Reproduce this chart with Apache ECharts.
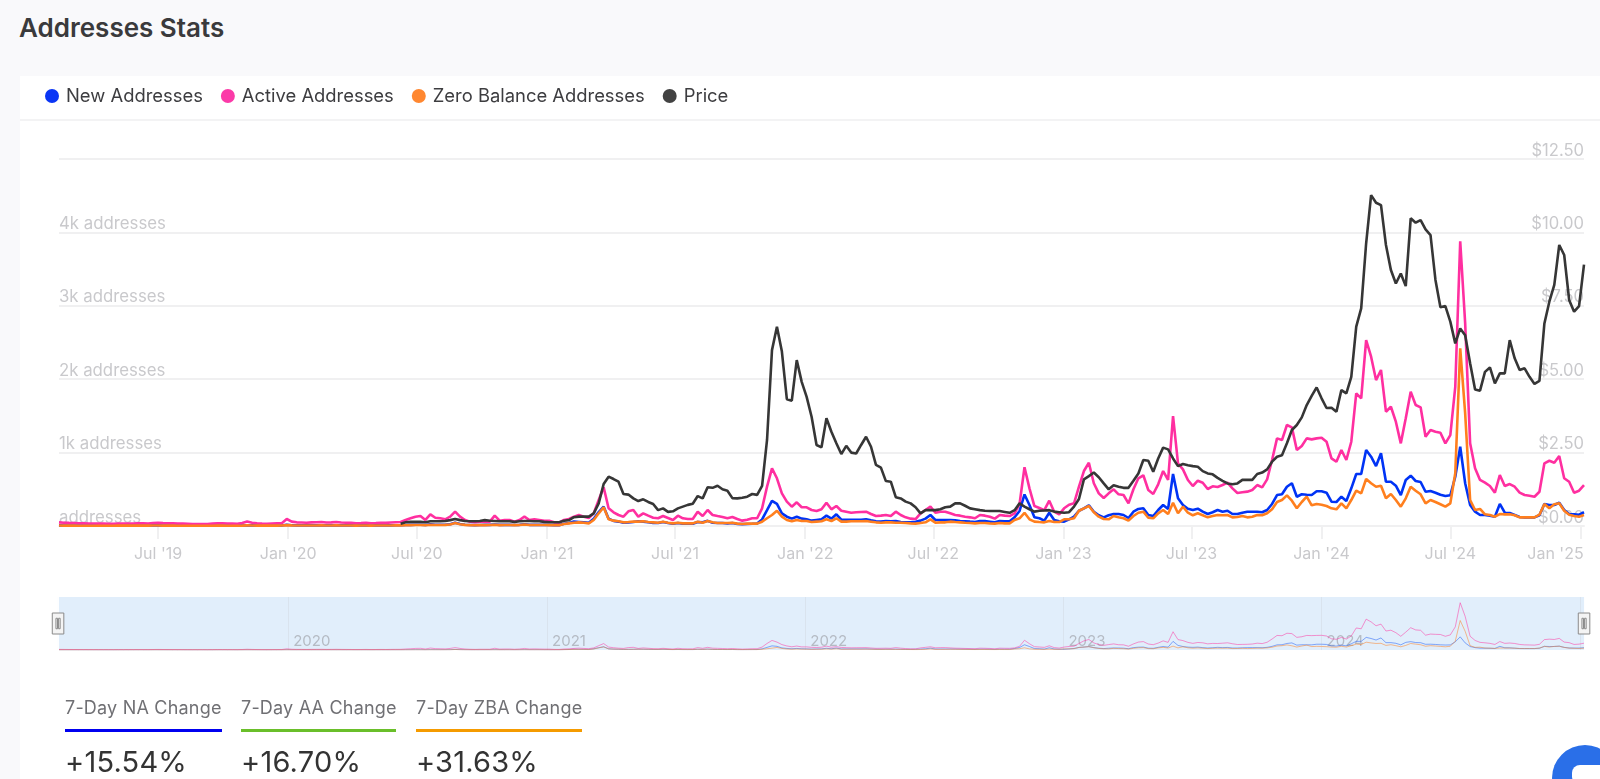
<!DOCTYPE html>
<html>
<head>
<meta charset="utf-8">
<title>Addresses Stats</title>
<script src="https://cdn.jsdelivr.net/npm/echarts@6/dist/echarts.min.js"></script>
<style>
  html, body { margin: 0; height: 100%; overflow: hidden; background: #f9f9fb; font-family: Inter, sans-serif; }
  #title { position: absolute; left: 19px; top: 11px; font-size: 26px; line-height: 34px; font-weight: 600; color: #3a3a3c; }
  #card { position: absolute; left: 20px; top: 76px; right: 0; bottom: 0; background: #fff; }
  #divider { position: absolute; left: 20px; right: 0; top: 119px; height: 2px; background: #f3f3f4; }
  #chart { position: absolute; left: 0; top: 0; width: 1600px; height: 779px; }
  .stat { position: absolute; top: 695px; color: #707074; font-size: 18px; letter-spacing: 0.2px; line-height: 26px; white-space: nowrap; }
  .stat .bar { height: 3px; margin-top: 8px; }
  .stat .num { margin-top: 12px; color: #333; font-size: 29px; letter-spacing: 0.2px; line-height: 36px; }
  #bubble { position: absolute; left: 1552px; top: 745px; width: 66px; height: 66px; border-radius: 50%; background: #2a6fe8; }
  #bubble i { position: absolute; left: 20px; top: 20px; width: 40px; height: 20px; border-radius: 8px; background: #fff; }
</style>
</head>
<body>
<div id="title">Addresses Stats</div>
<div id="card"></div>
<div id="divider"></div>
<div id="chart"></div>
<div class="stat" style="left:65px;width:157px">7-Day NA Change<div class="bar" style="background:#0000f0"></div><div class="num">+15.54%</div></div>
<div class="stat" style="left:241px;width:155px">7-Day AA Change<div class="bar" style="background:#6abf2a"></div><div class="num">+16.70%</div></div>
<div class="stat" style="left:416px;width:166px">7-Day ZBA Change<div class="bar" style="background:#f59b00"></div><div class="num">+31.63%</div></div>
<div id="bubble"><i></i></div>
<script>
// weekly readings, first one is 2019-02-11
const firstWeek = Date.UTC(2019, 1, 11)
const WEEK = 7 * 24 * 3600 * 1000

const newAddresses = [
  8,7,7,6,6,6,6,5,5,5,
  5,5,6,6,6,7,7,7,6,8,
  8,7,7,6,6,6,5,5,5,5,
  4,5,6,6,6,6,5,7,10,8,
  6,6,6,7,7,7,16,10,9,9,
  8,9,9,10,9,9,10,9,8,8,
  7,8,8,7,8,9,8,9,10,10,
  14,16,18,18,14,22,18,18,18,24,
  45,28,18,14,12,14,15,15,20,15,
  16,16,14,16,22,16,16,16,15,14,
  12,12,30,40,60,55,50,45,100,190,
  263,100,70,60,45,50,55,65,60,50,
  40,40,55,40,30,40,30,30,30,55,
  50,70,45,40,40,35,40,28,25,28,
  30,35,90,215,341,300,173,127,100,127,
  100,91,73,82,91,141,100,159,86,86,
  86,86,86,91,77,64,60,68,64,68,
  55,50,50,59,73,100,150,82,82,82,
  82,77,68,64,59,55,68,68,59,50,
  68,64,64,120,205,430,286,118,105,73,
  181,82,64,59,91,127,208,241,282,195,
  146,118,146,163,163,150,109,195,232,241,
  150,136,218,286,232,708,377,286,236,218,
  236,195,163,187,218,195,208,163,163,181,
  195,195,195,187,218,300,422,432,535,582,
  399,432,426,422,473,473,454,331,327,399,
  341,513,708,708,1035,944,817,990,603,603,
  549,422,627,685,613,599,467,477,454,426,
  409,418,671,1080,582,286,195,150,150,141,
  127,300,181,177,150,123,118,118,118,146,
  300,286,286,317,218,163,159,154,187
]

const activeAddresses = [
  50,45,42,40,38,36,34,34,32,32,
  30,30,32,32,34,34,36,36,34,40,
  44,40,38,36,34,32,30,28,28,26,
  25,32,36,36,34,32,30,40,60,45,
  38,32,30,34,36,38,95,60,50,48,
  45,50,52,55,48,50,55,48,44,42,
  38,40,45,38,40,45,42,48,52,55,
  82,105,127,136,82,159,113,105,91,127,
  195,127,82,59,50,59,59,59,141,72,
  82,82,59,82,127,82,91,82,72,72,
  50,45,82,95,127,150,127,109,173,354,
  527,241,187,150,127,200,218,127,173,141,
  113,105,136,109,82,141,105,95,95,195,
  136,218,150,136,123,105,123,95,73,86,
  105,105,241,536,786,650,445,331,263,323,
  255,255,218,204,227,317,227,272,208,195,
  181,187,191,195,163,136,141,150,136,195,
  150,118,100,95,173,218,263,181,195,195,
  173,150,141,127,118,105,150,141,127,100,
  150,141,136,173,300,800,513,272,245,215,
  345,195,159,241,290,309,535,749,862,582,
  445,381,445,500,432,422,309,500,650,691,
  490,436,568,749,627,1498,854,772,627,545,
  617,590,504,541,531,558,590,513,449,459,
  468,490,558,527,636,899,1194,1171,1376,1344,
  1035,1090,1194,1180,1194,1203,1148,922,876,1035,
  899,1148,1807,1739,2533,2306,1988,2125,1557,1625,
  1421,1126,1467,1829,1648,1617,1216,1307,1284,1271,
  1126,1239,1897,3880,2761,1126,786,627,590,545,
  454,695,545,572,535,454,422,413,399,467,
  854,889,862,953,650,603,454,481,558
]

const zeroBalance = [
  6,5,5,5,4,4,4,4,4,4,
  4,4,5,5,5,5,5,5,5,6,
  6,5,5,5,4,4,4,4,4,4,
  3,4,5,5,4,4,4,5,8,6,
  5,5,5,5,5,6,12,8,7,7,
  6,7,7,8,7,7,8,7,6,6,
  5,6,6,5,6,7,6,7,8,8,
  10,12,14,14,11,16,14,14,15,20,
  40,24,15,12,10,12,12,13,16,12,
  14,14,12,14,20,14,14,14,13,12,
  10,10,27,36,45,50,45,36,82,173,
  255,91,73,64,50,54,59,59,64,54,
  50,45,59,45,36,45,36,36,36,59,
  45,68,50,41,41,41,45,32,27,32,
  32,32,59,105,150,208,127,82,64,82,
  68,68,54,59,64,91,68,105,59,59,
  64,64,64,68,59,50,45,50,50,45,
  45,41,36,32,41,50,91,45,50,50,
  59,54,50,45,41,36,41,41,36,32,
  41,36,36,82,105,180,91,59,54,50,
  68,54,54,91,91,105,208,241,272,187,
  127,95,91,136,118,105,73,136,181,195,
  113,105,173,218,163,317,173,263,181,146,
  173,146,118,136,150,146,150,118,123,136,
  118,127,150,146,173,227,327,354,418,345,
  241,327,399,282,300,290,272,241,227,309,
  241,354,481,445,640,582,535,549,377,436,
  354,263,377,535,481,432,309,354,327,296,
  263,309,718,2420,1535,354,218,232,159,150,
  127,163,159,159,146,118,118,118,118,154,
  300,241,296,309,208,154,136,127,150
]

// price only starts in June 2020 (week 69)
const priceStartWeek = 69
const price = [
  .08,.13,.14,.14,.14,.13,.16,.16,.16,.17,.20,
  .24,.20,.17,.16,.16,.17,.20,.18,.17,.16,
  .16,.16,.14,.16,.17,.17,.16,.16,.14,.13,
  .13,.13,.18,.20,.30,.32,.32,.32,.43,.77,
  1.43,1.68,1.60,1.51,1.09,1.07,.94,.85,.91,.82,
  .75,.54,.60,.48,.50,.60,.66,.72,.76,1.02,
  .94,1.32,1.30,1.37,1.25,1.20,.95,.94,.96,1.00,
  1.09,1.06,1.37,2.93,5.99,6.79,5.94,4.32,4.27,5.65,
  4.91,4.40,3.72,2.76,2.68,3.67,3.21,2.82,2.45,2.73,
  2.50,2.47,2.76,3.04,2.70,2.08,1.99,1.53,1.51,.98,
  .94,.83,.77,.64,.43,.54,.54,.54,.57,.64,
  .66,.77,.77,.69,.60,.57,.54,.52,.51,.51,
  .51,.48,.45,.54,.77,.66,.57,.49,.52,.53,
  .54,.49,.47,.45,.47,.66,.92,1.59,1.70,1.82,
  1.66,1.45,1.25,1.39,1.34,1.30,1.30,1.54,1.79,2.25,
  2.22,1.85,2.30,2.67,2.61,2.30,2.04,2.11,2.07,2.04,
  2.02,1.87,1.79,1.76,1.64,1.54,1.45,1.42,1.45,1.57,
  1.57,1.57,1.77,1.82,1.93,2.19,2.36,2.41,2.82,3.27,
  3.44,3.70,4.12,4.43,4.72,4.35,4.02,4.03,3.89,4.63,
  4.52,5.08,6.79,7.41,9.63,11.27,11.01,10.93,9.57,8.72,
  8.26,8.60,8.17,10.48,10.33,10.42,10.10,9.91,8.38,7.45,
  7.49,6.96,6.22,6.73,6.50,5.54,4.65,4.61,5.25,5.40,
  4.86,5.20,5.20,6.33,5.71,5.31,5.37,5.08,4.84,4.94,
  6.90,7.64,8.21,9.57,9.23,7.70,7.30,7.49,8.90
]

const tickDates = [[2019,6],[2020,0],[2020,6],[2021,0],[2021,6],[2022,0],[2022,6],[2023,0],[2023,6],[2024,0],[2024,6],[2025,0]]
const tickLabels = ["Jul '19","Jan '20","Jul '20","Jan '21","Jul '21","Jan '22","Jul '22","Jan '23","Jul '23","Jan '24","Jul '24","Jan '25"]
const navYears = [2020, 2021, 2022, 2023, 2024, 2025]
const navYearLabels = ['2020', '2021', '2022', '2023', '2024', '']

const axisColor = '#c9c9cc'
const gridColor = '#f0f0f1'
const font = 'Inter'

const tickValues = tickDates.map((d) => Date.UTC(d[0], d[1], 1))
const navValues = navYears.map((y) => Date.UTC(y, 0, 1))
const pairs = (arr, offset) => arr.map((v, i) => [firstWeek + (i + offset) * WEEK, v])
const xMin = firstWeek
const xMax = firstWeek + (newAddresses.length - 1) * WEEK

const mainLine = (name, color, data, yAxisIndex) => ({
  name, type: 'line', data, xAxisIndex: 0, yAxisIndex,
  showSymbol: false, smooth: false, color,
  lineStyle: { color, width: 2.6 }
})
const navLine = (color, data) => ({
  type: 'line', data, xAxisIndex: 1, yAxisIndex: 2,
  showSymbol: false, silent: true, color,
  lineStyle: { color, width: 1, opacity: 0.5 }
})

const chart = echarts.init(document.getElementById('chart'))
chart.setOption({
  animation: false,
  textStyle: { fontFamily: font },
  legend: {
    left: 40, top: 82, icon: 'circle', itemWidth: 14, itemHeight: 14, itemGap: 18,
    textStyle: { color: '#3d3d40', fontSize: 18.4, fontFamily: font, padding: [0, 0, 0, 2] },
    data: [
      { name: 'New Addresses', itemStyle: { color: '#0a35f5' } },
      { name: 'Active Addresses', itemStyle: { color: '#fb3aa8' } },
      { name: 'Zero Balance Addresses', itemStyle: { color: '#ff8730' } },
      { name: 'Price', itemStyle: { color: '#424242' } }
    ]
  },
  grid: [
    { left: 59, right: 16, top: 159, height: 367 },
    { left: 59, right: 16, top: 597, height: 53, show: true, backgroundColor: '#e3effb', borderWidth: 0 }
  ],
  xAxis: [
    {
      type: 'value', gridIndex: 0, min: xMin, max: xMax,
      axisLine: { show: true, onZero: false, lineStyle: { color: gridColor, width: 2 } },
      axisTick: { show: true, customValues: tickValues, length: 13, lineStyle: { color: gridColor, width: 2 } },
      axisLabel: {
        customValues: tickValues, margin: 20, color: axisColor, fontSize: 16, fontFamily: font,
        hideOverlap: false, showMinLabel: true, showMaxLabel: true,
        formatter: (value) => {
          const i = tickValues.indexOf(value)
          if (i === tickValues.length - 1) return '{last|' + tickLabels[i] + '}'
          return tickLabels[i]
        },
        rich: { last: { color: axisColor, fontSize: 16, fontFamily: font, padding: [0, 50, 0, 0] } }
      },
      splitLine: { show: false }
    },
    {
      type: 'value', gridIndex: 1, min: xMin, max: xMax,
      axisLine: { show: false },
      axisTick: { show: false, customValues: navValues },
      axisLabel: {
        customValues: navValues, inside: true, margin: 1, align: 'left', color: '#b7bcc4', fontSize: 15, fontFamily: font,
        padding: [0, 0, 0, 5],
        formatter: (value) => navYearLabels[navValues.indexOf(value)]
      },
      splitLine: { show: true, lineStyle: { color: '#dbe4ee', width: 1 } }
    }
  ],
  yAxis: [
    {
      type: 'value', gridIndex: 0, min: 0, max: 5000, interval: 1000,
      axisLine: { show: false }, axisTick: { show: false },
      splitLine: { show: true, lineStyle: { color: gridColor, width: 2 } },
      axisLabel: {
        inside: true, margin: 0, verticalAlign: 'bottom', color: axisColor, fontSize: 16.8, fontFamily: font,
        formatter: (v) => v === 5000 ? '' : (v === 0 ? 'addresses' : v / 1000 + 'k addresses')
      }
    },
    {
      type: 'value', gridIndex: 0, position: 'right', min: 0, max: 12.5, interval: 2.5,
      axisLine: { show: false }, axisTick: { show: false }, splitLine: { show: false },
      axisLabel: {
        inside: true, margin: 0, verticalAlign: 'bottom', color: axisColor, fontSize: 16.6, fontFamily: font,
        formatter: (v) => '$' + v.toFixed(2)
      }
    },
    {
      type: 'value', gridIndex: 1, min: 0, max: 4350,
      axisLine: { show: false }, axisTick: { show: false }, axisLabel: { show: false }, splitLine: { show: false }
    }
  ],
  dataZoom: [{
    type: 'slider', xAxisIndex: 0, filterMode: 'none', start: 0, end: 100,
    left: 56, right: 16, top: 597, height: 53,
    showDetail: false, showDataShadow: false, brushSelect: false,
    backgroundColor: 'transparent', borderColor: 'transparent',
    fillerColor: 'rgba(120,175,235,0.01)',
    moveHandleSize: 0,
    handleIcon: 'path://M0,0H11V20H0Z M3.5,5H5V15H3.5Z M6,5H7.5V15H6Z',
    handleSize: 21,
    handleStyle: { color: '#f4f4f4', borderColor: '#8a8a8a', borderWidth: 1 }
  }],
  series: [
    mainLine('New Addresses', '#0033f5', pairs(newAddresses, 0), 0),
    mainLine('Active Addresses', '#ff2fa0', pairs(activeAddresses, 0), 0),
    mainLine('Zero Balance Addresses', '#ff7f1e', pairs(zeroBalance, 0), 0),
    mainLine('Price', '#363636', pairs(price, priceStartWeek), 1),
    navLine('#1c5cf5', pairs(newAddresses, 0)),
    navLine('#ff2fa0', pairs(activeAddresses, 0)),
    navLine('#ff7f1e', pairs(zeroBalance, 0))
  ]
})
</script>
</body>
</html>
